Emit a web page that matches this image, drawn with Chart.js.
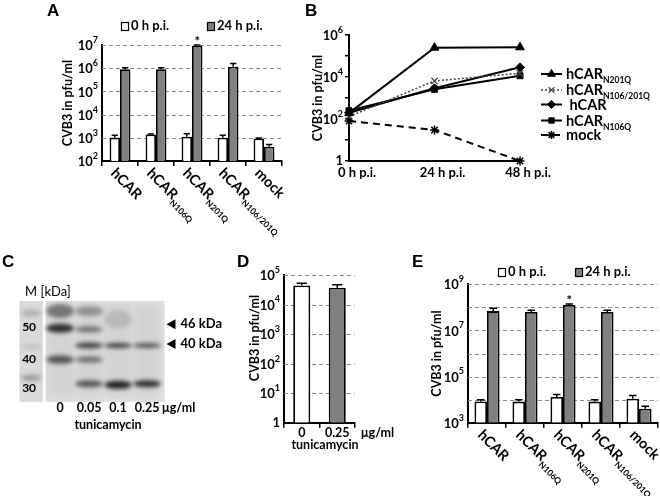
<!DOCTYPE html>
<html><head><meta charset="utf-8">
<script src="https://cdn.jsdelivr.net/npm/chart.js@4.4.1/dist/chart.umd.min.js"></script>
<style>
html,body{margin:0;padding:0;background:#fff;}
#wrap{position:relative;width:660px;height:496px;overflow:hidden;background:#fff;}
canvas{position:absolute;left:0;top:0;}
</style></head><body><div id="wrap"></div>
<script>
// ---------- Panel A ----------
const catsA = ['hCAR', 'hCAR_N106Q', 'hCAR_N201Q', 'hCAR_N106/201Q', 'mock'];
const a0h = [1020, 1400, 1120, 1000, 930];
const a0hErr = [270, 60, 380, 290, 60];
const a24h = [900000, 890000, 9300000, 1150000, 410];
const a24hErr = [150000, 160000, 700000, 450000, 100];
const sigA = ['', '', '*', '', ''];
const gridA = [1e3, 1e4, 1e5, 1e6, 1e7];
const tickLabelsA = [1e2, 1e3, 1e4, 1e5, 1e6, 1e7];
const legendA = ['0 h p.i.', '24 h p.i.'];

// ---------- Panel B ----------
const timesB = ['0 h p.i.', '24 h p.i.', '48 h p.i.'];
const namesB = ['hCAR_N201Q', 'hCAR_N106/201Q', ' hCAR', 'hCAR_N106Q', 'mock'];
const bN201Q = [190, 250000, 260000];
const bN106_201Q = [130, 6500, 15000];
const bHCAR = [200, 2900, 29000];
const bN106Q = [250, 2600, 11500];
const bMock = [80, 30, 1];
const ticksB = [1, 10, 100, 1000, 1e4, 1e5, 1e6];
const tickLabelsB = [1, 1e2, 1e4, 1e6];

// ---------- Panel C (western blot) ----------
const lanesC = ['M', '0', '0.05', '0.1', '0.25'];
const markerLabelsC = ['50', '40', '30'];
const markerPosC = [26, 57.5, 86];
const bandLane = [0, 0, 0, 1, 1, 1, 2, 2, 2, 2, 2, 3, 3, 3, 4, 4];
const bandPos = [12, 45, 76, 10, 27, 58, 10, 28, 44, 58, 82, 18, 44, 83, 44, 82];
const bandInt = [0.22, 0.12, 0.32, 0.5, 0.88, 0.7, 0.35, 0.52, 0.78, 0.55, 0.68, 0.14, 0.82, 0.95, 0.7, 0.88];
const bandThick = [6, 5, 6, 14, 9, 8, 10, 6, 6, 6, 7, 18, 5, 8, 5, 7];
const arrowLabelsC = ['46 kDa', '40 kDa'];
const arrowPosC = [23, 42.5];

// ---------- Panel D ----------
const catsD = ['0', '0.25'];
const dVals = [44000, 37000];
const dErr = [9000, 10000];
const gridD = [10, 100, 1000, 1e4, 1e5];
const tickLabelsD = [1, 10, 100, 1000, 1e4, 1e5];

// ---------- Panel E ----------
const catsE = ['hCAR', 'hCAR_N106Q', 'hCAR_N201Q', 'hCAR_N106/201Q', 'mock'];
const e0h = [8300, 8200, 13000, 8200, 11000];
const e0hErr = [1700, 1600, 3500, 1600, 4000];
const e24h = [69000000, 63000000, 126000000, 63000000, 4000];
const e24hErr = [22000000, 12000000, 14000000, 12000000, 1200];
const sigE = ['', '', '*', '', ''];
const gridE = [1e4, 1e5, 1e6, 1e7, 1e8, 1e9];
const tickLabelsE = [1e3, 1e5, 1e7, 1e9];

// ---------- helpers ----------
const FF = 'Lato, "Open Sans", "DejaVu Sans", sans-serif';
const GRAY = '#808080';
function F(sz, bold = true) { return (bold ? 'bold ' : '') + sz + 'px ' + FF; }
function area(l, t, r, b) { return { left: l, top: t, right: 660 - r, bottom: 496 - b }; }
const zeroFit = s => { if (s.isHorizontal()) s.height = 0; else s.width = 0; };

function txt(ctx, s, x, y, o = {}) {
  ctx.save();
  ctx.font = o.font || F(13);
  ctx.fillStyle = o.color || '#000';
  ctx.textAlign = o.align || 'left';
  ctx.textBaseline = o.base || 'middle';
  if (o.rot) { ctx.translate(x, y); ctx.rotate(o.rot); ctx.fillText(s, 0, 0); }
  else ctx.fillText(s, x, y);
  ctx.restore();
}
function powLabel(ctx, v, xr, y) {
  const e = Math.round(Math.log10(v));
  ctx.save(); ctx.fillStyle = '#000'; ctx.textBaseline = 'middle';
  if (e === 0) { ctx.font = F(13); ctx.textAlign = 'right'; ctx.fillText('1', xr, y); ctx.restore(); return; }
  ctx.font = F(9); const ew = ctx.measureText(String(e)).width;
  ctx.textAlign = 'left'; ctx.fillText(String(e), xr - ew, y - 5);
  ctx.font = F(13); ctx.textAlign = 'right'; ctx.fillText('10', xr - ew, y + 1);
  ctx.restore();
}
function subText(ctx, label, x, y, size, subSize, align) {
  const parts = label.split('_');
  const main = parts[0], sub = parts[1];
  ctx.font = F(size); const mw = ctx.measureText(main).width;
  let sw = 0; if (sub) { ctx.font = F(subSize); sw = ctx.measureText(sub).width; }
  const x0 = align === 'center' ? x - (mw + sw) / 2 : x;
  ctx.textAlign = 'left'; ctx.textBaseline = 'alphabetic'; ctx.fillStyle = '#000';
  ctx.font = F(size); ctx.fillText(main, x0, y);
  if (sub) { ctx.font = F(subSize); ctx.fillText(sub, x0 + mw, y + size * 0.3); }
}
function dashedGrid(chart, vals) {
  const ctx = chart.ctx, ys = chart.scales.y, a = chart.chartArea;
  ctx.save(); ctx.strokeStyle = '#8a8a8a'; ctx.lineWidth = 1; ctx.setLineDash([4, 3]);
  vals.forEach(v => { const y = Math.round(ys.getPixelForValue(v)) + 0.5; ctx.beginPath(); ctx.moveTo(a.left, y); ctx.lineTo(a.right, y); ctx.stroke(); });
  ctx.restore();
}
function errorBars(chart, errs) {
  const ctx = chart.ctx, ys = chart.scales.y;
  chart.data.datasets.forEach((ds, di) => {
    const meta = chart.getDatasetMeta(di);
    meta.data.forEach((bar, i) => {
      const v = ds.data[i], e = errs[di][i];
      const yT = ys.getPixelForValue(v + e), yV = ys.getPixelForValue(v);
      const cw = bar.width * 0.3;
      ctx.save(); ctx.strokeStyle = '#000'; ctx.lineWidth = 1.5;
      ctx.beginPath(); ctx.moveTo(bar.x, yV); ctx.lineTo(bar.x, yT);
      ctx.moveTo(bar.x - cw, yT); ctx.lineTo(bar.x + cw, yT); ctx.stroke(); ctx.restore();
    });
  });
}
function stars(chart, sig, dsIndex, vals, errs) {
  const ctx = chart.ctx, ys = chart.scales.y, meta = chart.getDatasetMeta(dsIndex);
  sig.forEach((s, i) => { if (!s) return; const bar = meta.data[i];
    const y = ys.getPixelForValue(vals[i] + errs[i]);
    txt(ctx, s, bar.x, y + 1, { font: F(13), align: 'center', base: 'alphabetic' }); });
}
function rotCats(chart, cats) {
  const ctx = chart.ctx, xs = chart.scales.x, a = chart.chartArea;
  cats.forEach((c, i) => {
    const cx = xs.getPixelForValue(i);
    ctx.save(); ctx.translate(cx - 3, a.bottom + 6); ctx.rotate(Math.PI / 4);
    subText(ctx, c, 0, 10, 14.5, 8.5, 'left'); ctx.restore();
  });
}
function boxLegend(ctx, labels, xs, y) {
  [ '#fff', GRAY ].forEach((col, i) => {
    ctx.save(); ctx.fillStyle = col; ctx.strokeStyle = '#000'; ctx.lineWidth = 1.2;
    ctx.fillRect(xs[i], y - 4, 7, 8); ctx.strokeRect(xs[i] + 0.5, y - 4 + 0.5, 7, 8); ctx.restore();
    txt(ctx, labels[i], xs[i] + 10, y, { font: F(13) });
  });
}
function mkChart(cfg) {
  const c = document.createElement('canvas'); c.width = 660; c.height = 496;
  document.getElementById('wrap').appendChild(c);
  cfg.options = Object.assign({ responsive: false, animation: false, devicePixelRatio: 1, events: [] }, cfg.options);
  return new Chart(c, cfg);
}
function barScales(minV, maxV, gridVals) {
  return {
    x: { type: 'category', offset: true, ticks: { display: false },
      grid: { display: true, offset: true, drawOnChartArea: false, drawTicks: true, tickLength: 5, color: '#000', lineWidth: 1.5 },
      border: { display: true, color: '#000', width: 2 }, afterFit: zeroFit },
    y: { type: 'logarithmic', min: minV, max: maxV, ticks: { display: false },
      afterBuildTicks: s => { s.ticks = gridVals.map(v => ({ value: v })); },
      grid: { display: false }, border: { display: true, color: '#000', width: 2 }, afterFit: zeroFit }
  };
}

// ---------- Chart A ----------
mkChart({
  type: 'bar',
  data: { labels: catsA, datasets: [
    { data: a0h, backgroundColor: '#fff', borderColor: '#000', borderWidth: 1.8 },
    { data: a24h, backgroundColor: GRAY, borderColor: '#000', borderWidth: 1.8 } ] },
  options: {
    layout: { padding: area(102, 45, 282, 161) },
    plugins: { legend: { display: false }, tooltip: { enabled: false } },
    datasets: { bar: { categoryPercentage: 0.58, barPercentage: 1 } },
    scales: barScales(1e2, 1e7, tickLabelsA)
  },
  plugins: [{ id: 'decoA',
    beforeDatasetsDraw(ch) { dashedGrid(ch, gridA); },
    afterDraw(ch) {
      const ctx = ch.ctx, ys = ch.scales.y, a = ch.chartArea;
      errorBars(ch, [a0hErr, a24hErr]);
      stars(ch, sigA, 1, a24h, a24hErr);
      tickLabelsA.forEach(v => powLabel(ctx, v, a.left - 4, ys.getPixelForValue(v)));
      rotCats(ch, catsA);
      boxLegend(ctx, legendA, [121, 207], 26);
      txt(ctx, 'CVB3 in pfu/ml', 68, (a.top + a.bottom) / 2, { font: F(12.5), align: 'center', rot: -Math.PI / 2 });
      txt(ctx, 'A', 47, 16, { font: 'bold 17px "Liberation Sans", Arial, sans-serif', base: 'alphabetic' });
    } }]
});

// ---------- Chart B ----------
const ptB = { borderColor: '#000', backgroundColor: '#000', pointBackgroundColor: '#000', pointBorderColor: '#000', fill: false, tension: 0, clip: false };
const dsB = [
  Object.assign({}, ptB, { data: bN201Q, borderWidth: 2, pointStyle: 'triangle', pointRadius: 5, pointBorderWidth: 1 }),
  Object.assign({}, ptB, { data: bN106_201Q, borderWidth: 1.5, borderColor: '#444', borderDash: [2, 2], pointStyle: 'crossRot', pointRadius: 4.5, pointBorderWidth: 1.3, pointBorderColor: '#444' }),
  Object.assign({}, ptB, { data: bHCAR, borderWidth: 2, pointStyle: 'rectRot', pointRadius: 4.5, pointBorderWidth: 1 }),
  Object.assign({}, ptB, { data: bN106Q, borderWidth: 2, pointStyle: 'rect', pointRadius: 4.2, pointBorderWidth: 1 }),
  Object.assign({}, ptB, { data: bMock, borderWidth: 2, borderDash: [7, 5], pointStyle: 'star', pointRadius: 4.5, pointBorderWidth: 1.5 })
];
mkChart({
  type: 'line',
  data: { labels: timesB, datasets: dsB },
  options: {
    layout: { padding: area(349, 35, 520, 161) },
    plugins: { legend: { display: false }, tooltip: { enabled: false } },
    scales: {
      x: { type: 'category', offset: false, ticks: { display: false }, grid: { display: false },
        border: { display: true, color: '#000', width: 2 }, afterFit: zeroFit },
      y: { type: 'logarithmic', min: 1, max: 1e6, ticks: { display: false },
        afterBuildTicks: s => { s.ticks = ticksB.map(v => ({ value: v })); },
        grid: { display: true, drawOnChartArea: false, drawTicks: true, tickLength: 4, color: '#000', lineWidth: 1.5 },
        border: { display: true, color: '#000', width: 2 }, afterFit: zeroFit }
    }
  },
  plugins: [{ id: 'decoB', afterDraw(ch) {
    const ctx = ch.ctx, ys = ch.scales.y, xs = ch.scales.x, a = ch.chartArea;
    tickLabelsB.forEach(v => powLabel(ctx, v, a.left - 6, ys.getPixelForValue(v)));
    timesB.forEach((t, i) => txt(ctx, t, xs.getPixelForValue(i) + 8, a.bottom + 12, { font: F(13), align: 'center' }));
    txt(ctx, 'CVB3 in pfu/ml', 318, (a.top + a.bottom) / 2, { font: F(12.5), align: 'center', rot: -Math.PI / 2 });
    const rows = [74, 90, 104.5, 120.5, 135];
    ch.data.datasets.forEach((ds, i) => {
      const y = rows[i];
      ctx.save(); ctx.strokeStyle = ds.borderColor; ctx.lineWidth = ds.borderWidth;
      ctx.setLineDash(ds.borderDash || []);
      ctx.beginPath(); ctx.moveTo(541, y); ctx.lineTo(562, y); ctx.stroke(); ctx.setLineDash([]);
      ctx.fillStyle = ds.pointBackgroundColor; ctx.strokeStyle = ds.pointBorderColor; ctx.lineWidth = ds.pointBorderWidth;
      Chart.helpers.drawPoint(ctx, { pointStyle: ds.pointStyle, radius: ds.pointRadius * 0.9, borderWidth: ds.pointBorderWidth, rotation: 0 }, 551.5, y);
      ctx.restore();
      subText(ctx, namesB[i], 566, y + 5, 14.5, 8.5, 'left');
    });
    txt(ctx, 'B', 305, 16, { font: 'bold 17px "Liberation Sans", Arial, sans-serif', base: 'alphabetic' });
  } }]
});

// ---------- Chart C (blot) ----------
mkChart({
  type: 'scatter',
  data: { datasets: [{ data: [] }] },
  options: {
    layout: { padding: area(19.5, 301, 164.5, 402) },
    plugins: { legend: { display: false }, tooltip: { enabled: false } },
    scales: {
      x: { type: 'linear', min: -0.4, max: 4.6, display: false },
      y: { type: 'linear', min: 0, max: 100, reverse: true, display: false }
    }
  },
  plugins: [{ id: 'blot', afterDraw(ch) {
    const ctx = ch.ctx, xs = ch.scales.x, ys = ch.scales.y, a = ch.chartArea;
    const lw = xs.getPixelForValue(1) - xs.getPixelForValue(0);
    ctx.save();
    // background of membrane
    ctx.fillStyle = '#d9d9d9'; ctx.fillRect(a.left, a.top, lw * 0.8, a.bottom - a.top);
    ctx.fillStyle = '#e0e0e0'; ctx.fillRect(a.left + lw * 0.9, a.top, a.right - a.left - lw * 0.9, a.bottom - a.top);
    ctx.filter = 'blur(3px)';
    // faint lane smear
    for (let l = 1; l < lanesC.length; l++) {
      const x = xs.getPixelForValue(l);
      ctx.fillStyle = 'rgba(60,60,60,0.08)';
      ctx.fillRect(x - lw * 0.45, a.top + 3, lw * 0.9, a.bottom - a.top - 8);
    }
    ctx.filter = 'blur(2.2px)';
    for (let i = 0; i < bandLane.length; i++) {
      const x = xs.getPixelForValue(bandLane[i]);
      const y = ys.getPixelForValue(bandPos[i]);
      const h = Math.abs(ys.getPixelForValue(bandThick[i]) - ys.getPixelForValue(0));
      const w = bandLane[i] === 0 ? lw * 0.7 : lw * 0.95;
      ctx.fillStyle = 'rgba(25,25,25,' + bandInt[i] + ')';
      ctx.beginPath(); ctx.ellipse(x, y, w / 2, h / 2, 0, 0, Math.PI * 2); ctx.fill();
    }
    ctx.filter = 'none'; ctx.restore();
    // marker labels
    txt(ctx, 'M [kDa]', 25, 292, { font: F(13, false) });
    markerLabelsC.forEach((m, i) => txt(ctx, m, xs.getPixelForValue(0) - 2, ys.getPixelForValue(markerPosC[i]), { font: F(12), align: 'center' }));
    // arrows
    arrowLabelsC.forEach((l, i) => {
      const y = ys.getPixelForValue(arrowPosC[i]);
      ctx.save(); ctx.fillStyle = '#000'; ctx.beginPath(); ctx.moveTo(a.right + 2, y); ctx.lineTo(a.right + 11, y - 5); ctx.lineTo(a.right + 11, y + 5); ctx.closePath(); ctx.fill(); ctx.restore();
      txt(ctx, l, a.right + 16, y, { font: F(13) });
    });
    // lane labels
    for (let i = 1; i < lanesC.length; i++) txt(ctx, lanesC[i], xs.getPixelForValue(i), 408, { font: F(12.5), align: 'center' });
    txt(ctx, 'μg/ml', xs.getPixelForValue(4) + 15, 408, { font: F(12.5) });
    txt(ctx, 'tunicamycin', 108, 425, { font: F(12.5), align: 'center' });
    txt(ctx, 'C', 2, 267, { font: 'bold 17px "Liberation Sans", Arial, sans-serif', base: 'alphabetic' });
  } }]
});

// ---------- Chart D ----------
mkChart({
  type: 'bar',
  data: { labels: catsD, datasets: [{ data: dVals, backgroundColor: ['#fff', GRAY], borderColor: '#000', borderWidth: 1.8 }] },
  options: {
    layout: { padding: area(284, 275, 355, 422.7) },
    plugins: { legend: { display: false }, tooltip: { enabled: false } },
    datasets: { bar: { categoryPercentage: 0.5, barPercentage: 0.96 } },
    scales: barScales(1, 1e5, tickLabelsD)
  },
  plugins: [{ id: 'decoD',
    beforeDatasetsDraw(ch) { dashedGrid(ch, gridD); },
    afterDraw(ch) {
      const ctx = ch.ctx, ys = ch.scales.y, xs = ch.scales.x, a = ch.chartArea;
      errorBars(ch, [dErr]);
      tickLabelsD.forEach(v => powLabel(ctx, v, a.left - 4, ys.getPixelForValue(v)));
      catsD.forEach((c, i) => txt(ctx, c, xs.getPixelForValue(i), a.bottom + 10, { font: F(12.5), align: 'center' }));
      txt(ctx, 'μg/ml', a.right + 6, a.bottom + 10, { font: F(12.5) });
      txt(ctx, 'tunicamycin', 325, 445, { font: F(12.5), align: 'center' });
      txt(ctx, 'CVB3 in pfu/ml', 255, 338, { font: F(12.5), align: 'center', rot: -Math.PI / 2 });
      txt(ctx, 'D', 237, 267, { font: 'bold 17px "Liberation Sans", Arial, sans-serif', base: 'alphabetic' });
    } }]
});

// ---------- Chart E ----------
mkChart({
  type: 'bar',
  data: { labels: catsE, datasets: [
    { data: e0h, backgroundColor: '#fff', borderColor: '#000', borderWidth: 1.8 },
    { data: e24h, backgroundColor: GRAY, borderColor: '#000', borderWidth: 1.8 } ] },
  options: {
    layout: { padding: area(468, 284.3, 658, 422.7) },
    plugins: { legend: { display: false }, tooltip: { enabled: false } },
    datasets: { bar: { categoryPercentage: 0.66, barPercentage: 1 } },
    scales: barScales(1e3, 1e9, gridE)
  },
  plugins: [{ id: 'decoE',
    beforeDatasetsDraw(ch) { dashedGrid(ch, gridE); },
    afterDraw(ch) {
      const ctx = ch.ctx, ys = ch.scales.y, a = ch.chartArea;
      errorBars(ch, [e0hErr, e24hErr]);
      stars(ch, sigE, 1, e24h, e24hErr);
      tickLabelsE.forEach(v => powLabel(ctx, v, a.left - 4, ys.getPixelForValue(v)));
      rotCats(ch, catsE);
      boxLegend(ctx, legendA, [498, 575], 272);
      txt(ctx, 'CVB3 in pfu/ml', 437, (a.top + a.bottom) / 2, { font: F(12.5), align: 'center', rot: -Math.PI / 2 });
      txt(ctx, 'E', 412, 267, { font: 'bold 17px "Liberation Sans", Arial, sans-serif', base: 'alphabetic' });
    } }]
});
</script>
</body></html>
